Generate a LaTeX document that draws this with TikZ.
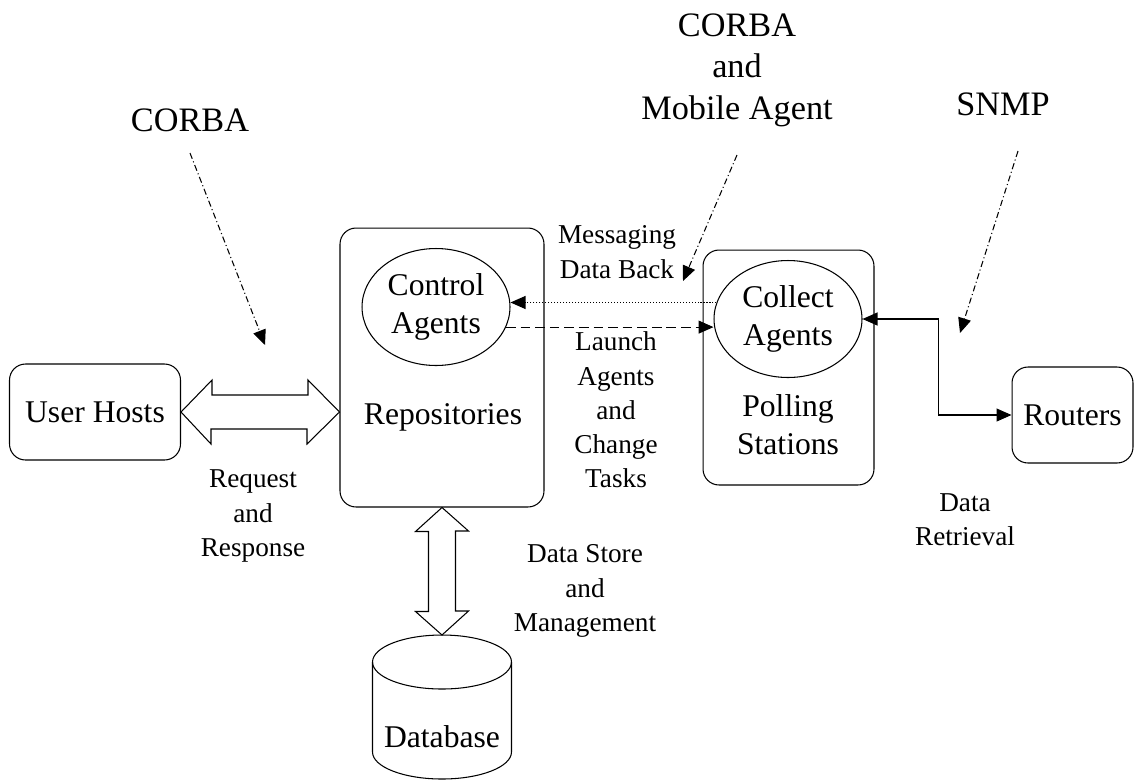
\documentclass[tikz,border=0pt]{standalone}
\usepackage{fontspec}
\setmainfont{Liberation Serif}
\usetikzlibrary{arrows.meta,shapes.geometric}

\tikzset{
  box/.style={draw, rounded corners=0.32cm, inner sep=0pt},
  agent/.style={draw, ellipse, inner sep=0pt, minimum width=2.96cm, minimum height=2.34cm, boxfont},
  boxfont/.style={font=\fontsize{18}{21.5}\selectfont, align=center, inner sep=0pt},
  small/.style={font=\fontsize{15.5}{19.5}\selectfont, align=center, inner sep=0pt},
  big/.style={font=\fontsize{19.5}{23.6}\selectfont, align=center, inner sep=0pt},
  dotline/.style={dash pattern=on 0.6pt off 1.1pt},
  dashline/.style={dash pattern=on 5.5pt off 2.8pt},
  dashdotline/.style={dash pattern=on 3.5pt off 1.6pt on 0.6pt off 1.6pt}
}

\begin{document}
\begin{tikzpicture}[x=0.02cm, y=-0.02cm, line width=0.6pt,
    >={Triangle[length=0.3cm,width=0.26cm]}]
  \useasboundingbox (0,0) rectangle (1135,782);

  % Boxes and agents:
  \node[box, minimum width=3.42cm, minimum height=1.92cm, boxfont] (uh) at (95,412) {User Hosts};
  \node[box, minimum width=4.08cm, minimum height=5.58cm] (repo) at (442,367.5) {};
  \node[boxfont] (repotxt) at (443,417) {Repositories};
  \node[agent] (ctrl) at (436,307) {Control\\Agents};
  \node[box, minimum width=3.42cm, minimum height=4.7cm] (poll) at (788.5,367.5) {};
  \node[boxfont] (polltxt) at (788,425) {Polling\\Stations};
  \node[agent] (coll) at (788,319) {Collect\\Agents};
  \node[box, minimum width=2.42cm, minimum height=1.92cm, boxfont] (rout) at (1072.5,415) {Routers};

  % Database:
  \coordinate (dbtop) at (442,635);
  \draw (442,662) ellipse [x radius=1.39cm, y radius=0.54cm];
  \draw (372.5,662) -- (372.5,752) arc[start angle=180, end angle=360, x radius=1.39cm, y radius=0.54cm] -- (511.5,662);
  \node[boxfont] (dbtxt) at (442,737) {Database};

  % Labels:
  \node[big] (corbaL) at (190,120) {CORBA};
  \node[big] (corbaM) at (737,70) {CORBA\\and\\Mobile Agent};
  \node[big] (snmp) at (1003,104) {SNMP};
  \node[small] (msg) at (617,252) {Messaging\\Data Back};
  \node[small] (launch) at (616,410) {Launch\\Agents\\and\\Change\\Tasks};
  \node[small] (req) at (253,516) {Request\\and\\Response};
  \node[small] (dsm) at (585,591) {Data Store\\and\\Management};
  \node[small] (dret) at (965,520) {Data\\Retrieval};

  % Wide double arrows:
  \draw (uh.east) -- ++(31,-32) -- ++(0,15) -- ++(96,0) -- ++(0,-15) -- (uh.east -| repo.west)
    -- ++(-32.5,32) -- ++(0,-15) -- ++(-96,0) -- ++(0,15) -- cycle;
  \draw (repo.south) -- ++(-26.5,24) -- ++(13,0) -- ++(0,80) -- ++(-13,0) -- (dbtop)
    -- ++(26.5,-24) -- ++(-13,0) -- ++(0,-80) -- ++(13,0) -- cycle;

  % Agent messages:
  \draw[dotline, ->] (coll.167) -- (coll.167 -| ctrl.east);
  \draw[dashline, ->] (ctrl.-16) -- (ctrl.-16 -| coll.west);
  \draw[<->] (coll.east) -- ++(76,0) |- (rout.west);

  % Protocol pointers:
  \coordinate (tipA) at (265,345);
  \coordinate (tipB) at (683,281);
  \coordinate (tipC) at (960,333);
  \draw[dashdotline, ->] ([yshift=-0.42cm]corbaL.south) -- (tipA);
  \draw[dashdotline, ->] ([yshift=-0.56cm]corbaM.south) -- (tipB);
  \draw[dashdotline, ->] ([xshift=0.3cm,yshift=-0.7cm]snmp.south) -- (tipC);
\end{tikzpicture}
\end{document}
